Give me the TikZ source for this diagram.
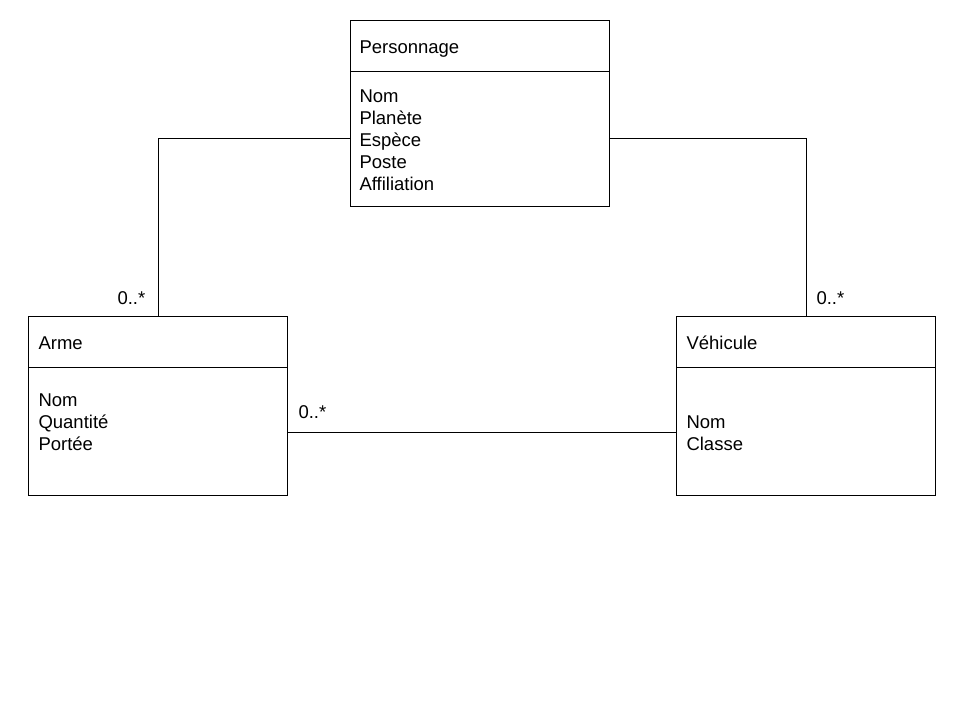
\documentclass[tikz,border=0pt]{standalone}
\usepackage{fontspec}
\setmainfont{Liberation Sans}
\usetikzlibrary{positioning}

\begin{document}
\begin{tikzpicture}[x=1pt,y=-1pt,line width=1pt,
    class/.style={draw,rectangle,anchor=north west,inner sep=0pt,minimum width=259pt},
    txt/.style={font=\fontsize{18.5}{22}\selectfont,inner sep=0pt,anchor=base west},
    mult/.style={txt}]
    \useasboundingbox (0,0) rectangle (960,720);

    % classes
    \node (pers) [class,minimum height=186pt] at (350,20){};
    \node (arme) [class,minimum height=179pt] at (28,316){};
    \node (veh) [class,minimum height=179pt] at (676,316){};

    \draw ([yshift=-51pt]pers.north west) -- ([yshift=-51pt]pers.north east);
    \draw ([yshift=-51pt]arme.north west) -- ([yshift=-51pt]arme.north east);
    \draw ([yshift=-51pt]veh.north west) -- ([yshift=-51pt]veh.north east);

    % names
    \node (persname) [txt] at (359,53){Personnage};
    \node (armename) [txt] at (38,349){Arme};
    \node (vehname) [txt] at (686,349){Véhicule};

    % attributes
    \foreach \a [count=\i] in {Nom,Planète,Espèce,Poste,Affiliation}
        \node (pa\i) [txt] at (359,{102+22*(\i-1)}){\a};
    \foreach \a [count=\i] in {Nom,Quantité,Portée}
        \node (aa\i) [txt] at (38,{406+22*(\i-1)}){\a};
    \foreach \a [count=\i] in {Nom,Classe}
        \node (va\i) [txt] at (686,{428+22*(\i-1)}){\a};

    % associations
    \draw ([yshift=-25pt]pers.west) -| (arme.north);
    \draw ([yshift=-25pt]pers.east) -| (veh.north);
    \draw (arme.east |- 0,432) -- (veh.west |- 0,432);

    \node (m1) [mult] at (117,304){0..*};
    \node (m2) [mult] at (816,304){0..*};
    \node (m3) [mult] at (298,418){0..*};
\end{tikzpicture}
\end{document}
